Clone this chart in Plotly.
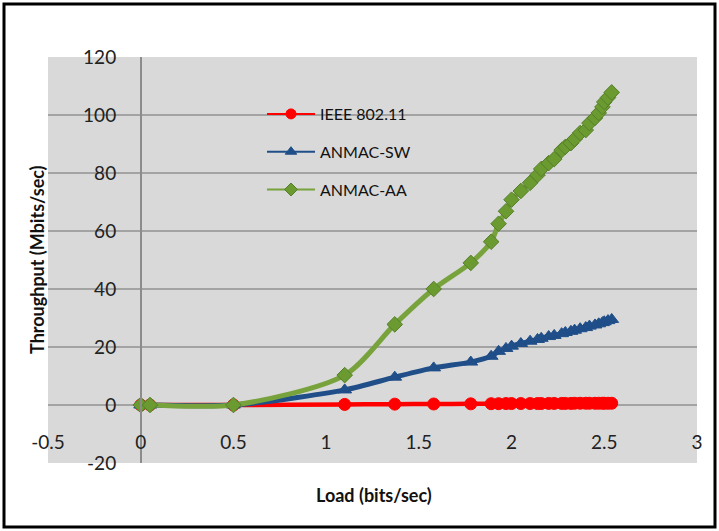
import plotly.graph_objects as go

# Offered load (bits/sec) shared by all three protocols
load = [0, 0.05, 0.5, 1.1, 1.37, 1.58, 1.78, 1.89, 1.93, 1.97, 2.0, 2.05, 2.1,
        2.14, 2.16, 2.2, 2.23, 2.27, 2.29, 2.32, 2.34, 2.37, 2.4, 2.42, 2.45,
        2.47, 2.49, 2.5, 2.52, 2.54]

# Throughput (Mbits/sec)
ieee_80211 = [0, 0, 0, 0.2, 0.3, 0.35, 0.4, 0.45, 0.45, 0.5, 0.5, 0.5, 0.5,
              0.5, 0.5, 0.55, 0.55, 0.55, 0.55, 0.55, 0.6, 0.6, 0.6, 0.6, 0.6,
              0.6, 0.6, 0.6, 0.6, 0.6]
anmac_sw = [0, 0, 0, 5.2, 9.6, 12.8, 14.8, 16.8, 18.5, 19.5, 20.3, 21.2, 22.0,
            22.6, 23.0, 23.6, 24.0, 24.6, 25.0, 25.4, 25.8, 26.3, 26.7, 27.2,
            27.6, 28.0, 28.4, 28.7, 29.1, 29.5]
anmac_aa = [0, 0, 0, 10.3, 27.8, 40.0, 49.0, 56.3, 62.5, 66.8, 70.8, 73.8, 76.6,
            79.3, 81.4, 83.4, 84.8, 87.9, 89.0, 90.3, 91.7, 93.8, 94.8, 97.2,
            99.0, 100.7, 102.8, 104.5, 106.0, 107.8]

x_ticks = [-0.5, 0, 0.5, 1, 1.5, 2, 2.5, 3]
y_ticks = [-20, 0, 20, 40, 60, 80, 100, 120]

series = [
    ("IEEE 802.11", ieee_80211, "#ff0000", "circle", 12, "#ff0000", "#ff0000", 4.5),
    ("ANMAC-SW", anmac_sw, "#1f4e89", "triangle-up", 12, "#1f4e89", "#1f4e89", 5),
    ("ANMAC-AA", anmac_aa, "#77a23c", "diamond", 12, "#6b9a30", "#55802a", 5),
]

W, H = 719, 531
L, R, T, B = 48, 22, 57, 68
pw, ph = W - L - R, H - T - B


def px_x(p):
    return (p - L) / pw


def px_y(p):
    return (H - B - p) / ph


fig = go.Figure()

for name, vals, lc, sym, ms, mc, mlc, lw in series:
    fig.add_trace(go.Scatter(
        x=load, y=vals, mode="lines+markers", name=name, showlegend=False,
        line=dict(color=lc, width=lw, shape="spline", smoothing=0.8),
        marker=dict(symbol=sym, size=ms, color=mc, line=dict(color=mlc, width=1)),
    ))

# thin-line legend entries
for i, (name, vals, lc, sym, ms, mc, mlc, lw) in enumerate(series):
    fig.add_trace(go.Scatter(
        x=[None], y=[None], mode="lines+markers", name=name,
        legendgroup=f"g{i}",
        line=dict(color=lc, width=2),
        marker=dict(symbol=sym, size=10, color=mc, line=dict(color=mlc, width=1)),
    ))

font_family = "Lato, 'Open Sans', sans-serif"

fig.update_layout(
    width=W, height=H,
    margin=dict(l=L, r=R, t=T, b=B, pad=0),
    paper_bgcolor="white",
    plot_bgcolor="#d9d9d9",
    font=dict(family=font_family, color="#222222"),
    xaxis=dict(
        range=[-0.5, 3], tickvals=x_ticks, ticktext=[f"{v:g}" for v in x_ticks],
        anchor="free", position=px_y(429), showline=False, showgrid=False,
        zeroline=False, ticks="", tickfont=dict(size=19, color="#222222"),
    ),
    yaxis=dict(
        range=[-20, 120], tickvals=y_ticks, ticktext=[str(v) for v in y_ticks],
        anchor="free", position=1 / 7, showline=True, linecolor="#8c8c8c",
        linewidth=1.5, showgrid=True, gridcolor="#a3a3a3", gridwidth=2,
        zeroline=False, ticks="", ticklabelstandoff=20,
        tickfont=dict(size=19, color="#222222"),
    ),
    legend=dict(
        x=px_x(262), y=px_y(97), xanchor="left", yanchor="top",
        bgcolor="rgba(0,0,0,0)", borderwidth=0, itemwidth=48,
        tracegroupgap=14, font=dict(size=16, color="#111111"),
    ),
    annotations=[
        dict(text="<b>Throughput (Mbits/sec)</b>", x=px_x(37), y=0.5,
             xref="paper", yref="paper", xanchor="center", yanchor="middle",
             textangle=-90, showarrow=False,
             font=dict(size=18, color="#111111")),
        dict(text="<b>Load (bits/sec)</b>", x=px_x(374), y=px_y(495),
             xref="paper", yref="paper", xanchor="center", yanchor="middle",
             showarrow=False, font=dict(size=18, color="#111111")),
    ],
    shapes=[
        dict(type="rect", xref="paper", yref="paper",
             x0=px_x(4), x1=px_x(715), y0=px_y(527), y1=px_y(4),
             line=dict(color="black", width=3), layer="above"),
    ],
)

fig.write_html("out.html")
